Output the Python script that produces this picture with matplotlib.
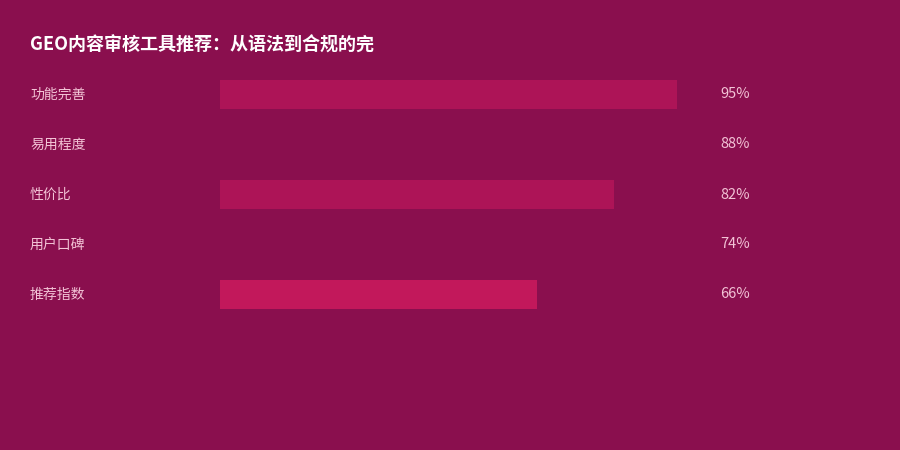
import matplotlib
matplotlib.use("Agg")
import matplotlib.pyplot as plt

plt.rcParams['font.family'] = ['Noto Sans CJK SC', 'DejaVu Sans']

# 数据
categorias = ["功能完善", "易用程度", "性价比", "用户口碑", "推荐指数"]
valores = [95, 88, 82, 74, 66]
rotulos = ["95%", "88%", "82%", "74%", "66%"]
titulo = "GEO内容审核工具推荐：从语法到合规的完"

fundo = "#8A0F4E"
cores = ["#AD1457", fundo, "#AD1457", fundo, "#C2185B"]

fig = plt.figure(figsize=(9, 4.5), dpi=100)
fig.patch.set_facecolor(fundo)

# eixo das barras: 0..100 entre x=220px e x=701px
W, H = 900, 450
ax = fig.add_axes([220 / W, 1 - 319.5 / H, 481 / W, 250 / H])
ax.set_facecolor(fundo)
y = list(range(len(categorias)))
ax.barh(y, valores, height=0.58, color=cores, edgecolor="none")
ax.set_xlim(0, 100)
ax.set_ylim(len(categorias) - 0.5, -0.5)
ax.axis("off")

for i, (cat, rot) in enumerate(zip(categorias, rotulos)):
    ypx = 94.5 + 50 * i
    fig.text(30 / W, 1 - ypx / H, cat, ha="left", va="center",
             fontsize=10, color="#F3C3D6")
    fig.text(720 / W, 1 - ypx / H, rot, ha="left", va="center",
             fontsize=10.5, color="#F3C3D6")

fig.text(30 / W, 1 - 45 / H, titulo, ha="left", va="center",
         fontsize=13, fontweight="bold", color="white")

fig.savefig("out.png", dpi=100, facecolor=fundo)
